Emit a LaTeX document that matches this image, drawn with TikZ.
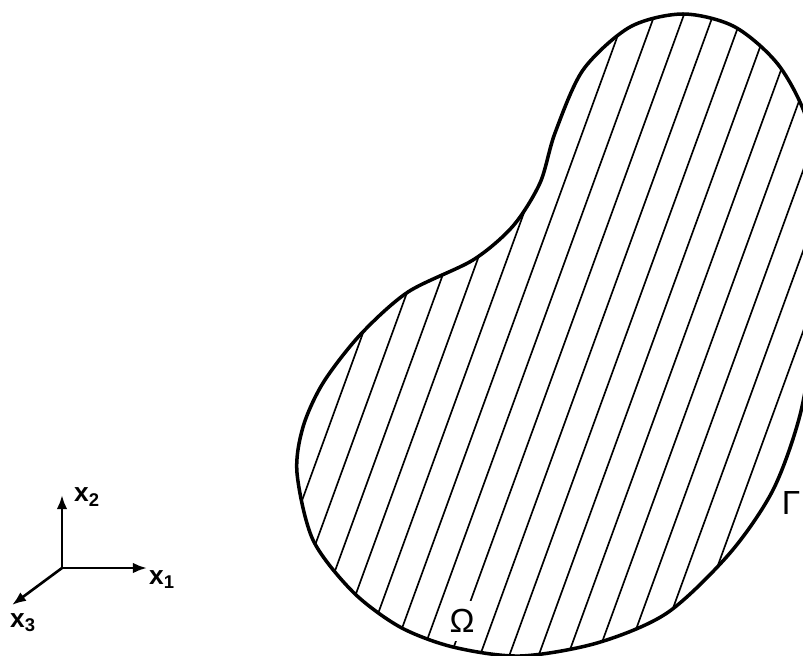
\documentclass[tikz,border=0pt]{standalone}
\usepackage{fontspec}
\setmainfont{Liberation Sans}
\usepackage{tikz}
\usetikzlibrary{arrows.meta}

\newcommand{\bodyoutline}{plot[smooth cycle] coordinates {(683,14) (735,27) (780,67) (810,130) (820,230) (814,330) (800,415) (773,490) (730,553) (667,613) (597,643) (520,656) (453,647) (400,627) (353,592) (313,540) (297,473) (303,427) (323,383) (360,335) (408,292) (473,260) (513,226) (540,183) (555,133) (583,70) (630,27)}}

\begin{document}
\begin{tikzpicture}[
    x=0.02cm, y=-0.02cm,
    outline/.style={line width=2pt, line join=round},
    hatch/.style={line width=0.95pt},
    axis/.style={-{Latex[length=8pt,width=6pt]}, line width=1.5pt},
    axislabel/.style={inner sep=0pt, font=\fontsize{15}{17}\selectfont\bfseries},
    greeklabel/.style={inner sep=0pt, font=\fontsize{19}{22}\selectfont}
]
\clip (0,0) rectangle (803,655);

\coordinate (origin) at (62,568);
\coordinate (x1end) at (147,568);
\coordinate (x2end) at (62,495);
\coordinate (x3end) at (12,605);
\draw[axis] (origin) -- (x1end);
\draw[axis] (origin) -- (x2end);
\draw[axis] (origin) -- (x3end);
\node[axislabel] (x1lab) at (162,580) {x\textsubscript{1}};
\node[axislabel] (x2lab) at (87,497) {x\textsubscript{2}};
\node[axislabel] (x3lab) at (23,623) {x\textsubscript{3}};

\begin{scope}
\clip \bodyoutline;
\foreach \k in {-3,...,20}
    \draw[hatch] ({258.7+29.3*\k},700) -- ++(273,-750);
\end{scope}
\draw[outline] \bodyoutline;

\node[greeklabel, fill=white, inner xsep=2pt, inner ysep=5pt] (omega) at (462,621) {Ω};
\node[greeklabel] (gamma) at (791,503) {Γ};
\end{tikzpicture}
\end{document}
